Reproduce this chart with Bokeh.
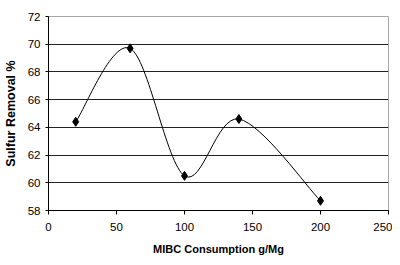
from bokeh.plotting import figure
from bokeh.models import ColumnDataSource, Range1d, FixedTicker
from bokeh.embed import file_html
from bokeh.resources import INLINE

# Data
mibc = [20, 60, 100, 140, 200]
removal = [64.4, 69.7, 60.5, 64.6, 58.7]
x_ticks = [0, 50, 100, 150, 200, 250]
y_ticks = [58, 60, 62, 64, 66, 68, 70, 72]

# Excel-style smoothed line: cubic Bezier segments (Catmull-Rom control points)
n = len(mibc)
x0, y0, x1, y1, cx0, cy0, cx1, cy1 = [], [], [], [], [], [], [], []
for i in range(n - 1):
    pm = max(i - 1, 0)
    pp = min(i + 2, n - 1)
    x0.append(mibc[i]); y0.append(removal[i])
    x1.append(mibc[i + 1]); y1.append(removal[i + 1])
    cx0.append(mibc[i] + (mibc[i + 1] - mibc[pm]) / 6.0)
    cy0.append(removal[i] + (removal[i + 1] - removal[pm]) / 6.0)
    cx1.append(mibc[i + 1] - (mibc[pp] - mibc[i]) / 6.0)
    cy1.append(removal[i + 1] - (removal[pp] - removal[i]) / 6.0)

seg = ColumnDataSource(dict(x0=x0, y0=y0, x1=x1, y1=y1, cx0=cx0, cy0=cy0, cx1=cx1, cy1=cy1))
pts = ColumnDataSource(dict(x=mibc, y=removal))

p = figure(width=392, height=257, output_backend="svg", toolbar_location=None,
           x_range=Range1d(0, 250), y_range=Range1d(58, 72),
           min_border_left=46, min_border_right=4, min_border_top=16, min_border_bottom=47)

p.background_fill_color = "white"
p.border_fill_color = "white"
p.outline_line_color = "#a6a6a6"
p.outline_line_width = 1

p.xgrid.grid_line_color = None
p.ygrid.grid_line_color = "#222222"
p.ygrid.grid_line_width = 1

p.bezier(x0="x0", y0="y0", x1="x1", y1="y1", cx0="cx0", cy0="cy0", cx1="cx1", cy1="cy1",
         source=seg, line_color="black", line_width=1)
p.scatter("x", "y", source=pts, marker="diamond", size=9, fill_color="black", line_color="black")

p.xaxis.ticker = FixedTicker(ticks=x_ticks)
p.yaxis.ticker = FixedTicker(ticks=y_ticks)
for ax in (p.xaxis[0], p.yaxis[0]):
    ax.axis_line_color = "black"
    ax.major_tick_line_color = "black"
    ax.minor_tick_line_color = None
    ax.major_tick_in = 0
    ax.major_label_text_font = "Liberation Sans"
    ax.major_label_text_font_size = "11.5px"
    ax.major_label_text_color = "black"
    ax.axis_label_text_font = "Liberation Sans"
    ax.axis_label_text_font_style = "bold"
    ax.axis_label_text_color = "black"

p.xaxis.major_tick_out = 4
p.xaxis.major_label_standoff = 8
p.xaxis.axis_label = "MIBC Consumption g/Mg"
p.xaxis.axis_label_text_font_size = "11px"
p.xaxis.axis_label_standoff = 9

p.yaxis.major_tick_out = 3
p.yaxis.major_label_standoff = 5
p.yaxis.axis_label = "Sulfur Removal %"
p.yaxis.axis_label_text_font_size = "12.5px"
p.yaxis.axis_label_standoff = 7

open("out.html", "w").write(file_html(p, INLINE))
